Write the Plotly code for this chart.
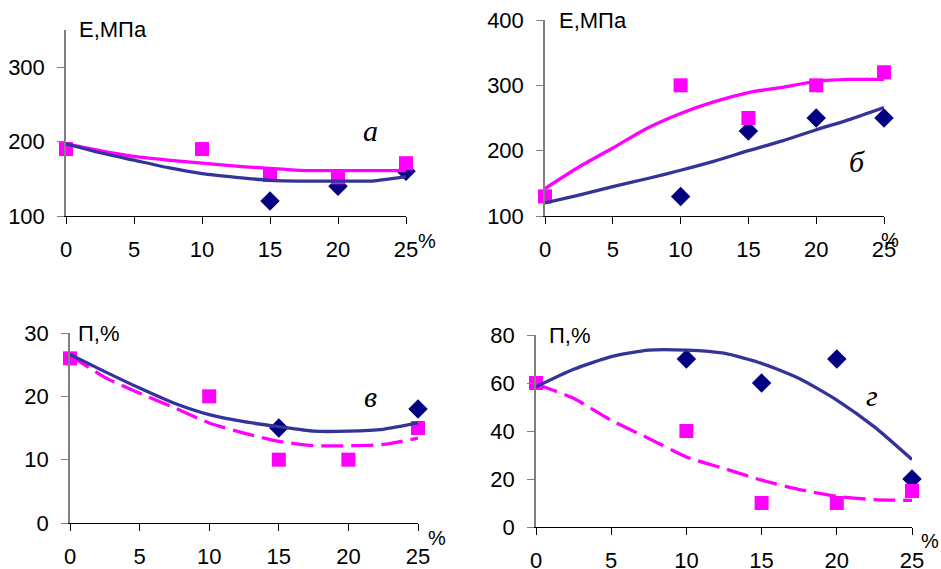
import plotly.graph_objects as go

W, H = 941, 569

# ---------------- data ----------------
x_pts = [0, 10, 15, 20, 25]
x_fit = [0, 2.5, 5, 7.5, 10, 12.5, 15, 17.5, 20, 22.5, 25]

# panel а (E, MPa)  (None = point hidden under a square in the picture)
a_sq = [190, 190, 155, 152, 171]
a_dm = [None, None, 120, 140, 160]
a_fit_mag = [197, 188, 180, 175, 171, 167, 164, 161, 161, 161, 161]
a_fit_nav = [197, 185, 175, 165, 157, 152, 148, 147, 147, 147, 153]

# panel б (E, MPa)
b_sq = [130, 300, 250, 300, 320]
b_dm = [None, 130, 230, 250, 250]
b_fit_mag = [142, 175, 204, 234, 257, 275, 289, 297, 306, 309, 309]
b_fit_nav = [120, 132, 145, 157, 170, 184, 200, 215, 232, 248, 266]

# panel в (П, %)
v_sq = [26, 20, 10, 10, 15]
v_dm = [None, None, 15, None, 18]
v_fit_nav = [26.6, 23.9, 21.3, 18.9, 17.1, 16.0, 15.2, 14.5, 14.5, 14.8, 15.8]
v_fit_mag = [26.5, 23.0, 20.5, 18.2, 15.8, 14.2, 12.9, 12.2, 12.2, 12.4, 13.4]

# panel г (П, %)
g_sq = [60, 40, 10, 10, 15]
g_dm = [None, 70, 60, 70, 20]
g_fit_nav = [58.4, 65.7, 71.0, 73.7, 73.7, 72.4, 68.2, 61.9, 52.9, 41.7, 28.1]
g_fit_mag = [59.6, 53.6, 44.5, 36.9, 29.2, 24.4, 19.5, 15.6, 12.8, 11.4, 11.1]

x_ticks = [0, 5, 10, 15, 20, 25]
panel_letters = ["а", "б", "в", "г"]
y_titles = ["E,МПа", "E,МПа", "П,%", "П,%"]

MAG = "#FF00FF"
NAV_LINE = "#333399"
NAV_PT = "#000080"

def px(x):
    return x / W

def py(y):
    return 1 - y / H

panels = [
    (a_sq, a_dm, a_fit_mag, a_fit_nav, "solid", [100, 350], [100, 200, 300], (66, 406), (216, 30)),
    (b_sq, b_dm, b_fit_mag, b_fit_nav, "solid", [100, 400], [100, 200, 300, 400], (545, 884), (216, 20)),
    (v_sq, v_dm, v_fit_mag, v_fit_nav, "dash", [0, 30], [0, 10, 20, 30], (70, 418), (523, 333)),
    (g_sq, g_dm, g_fit_mag, g_fit_nav, "dash", [0, 80], [0, 20, 40, 60, 80], (536, 912), (527, 335)),
]

fig = go.Figure()
layout = dict(
    width=W, height=H, margin=dict(l=0, r=0, t=0, b=0, autoexpand=False),
    paper_bgcolor="white", plot_bgcolor="white", showlegend=False,
    font=dict(family="Liberation Sans, Arial", size=22, color="black"),
)

annotations = []
for i, (sq, dm, fm, fn, dash, yr, yt, xd, yd) in enumerate(panels):
    n = i + 1
    xa = "x" if n == 1 else f"x{n}"
    ya = "y" if n == 1 else f"y{n}"
    fig.add_trace(go.Scatter(x=x_pts, y=dm, mode="markers", xaxis=xa, yaxis=ya,
                             marker=dict(symbol="diamond", size=15, color=NAV_PT),
                             cliponaxis=False))
    fig.add_trace(go.Scatter(x=x_pts, y=sq, mode="markers", xaxis=xa, yaxis=ya,
                             marker=dict(symbol="square", size=14, color=MAG),
                             cliponaxis=False))
    fig.add_trace(go.Scatter(x=x_fit, y=fm, mode="lines", xaxis=xa, yaxis=ya,
                             line=dict(color=MAG, width=3.3, dash="22px,8px" if dash == "dash" else "solid",
                                       shape="spline", smoothing=0.6),
                             cliponaxis=False))
    fig.add_trace(go.Scatter(x=x_fit, y=fn, mode="lines", xaxis=xa, yaxis=ya,
                             line=dict(color=NAV_LINE, width=3.3, shape="spline", smoothing=0.6),
                             cliponaxis=False))
    xkey = "xaxis" if n == 1 else f"xaxis{n}"
    ykey = "yaxis" if n == 1 else f"yaxis{n}"
    layout[xkey] = dict(
        domain=[px(xd[0]), px(xd[1])], range=[0, 25], anchor=ya, automargin=False,
        tickvals=x_ticks, showline=True, linecolor="black", linewidth=1.2,
        ticks="outside", ticklen=7, tickcolor="black", tickwidth=1.2,
        showgrid=False, zeroline=False, fixedrange=True,
        tickfont=dict(size=22), ticklabelstandoff=6,
    )
    layout[ykey] = dict(
        domain=[py(yd[0]), py(yd[1])], range=yr, anchor=xa, automargin=False,
        tickvals=yt, showline=True, linecolor="#808080", linewidth=1.5,
        ticks="outside", ticklen=7, tickcolor="#808080", tickwidth=1.2,
        showgrid=False, zeroline=False, fixedrange=True,
        tickfont=dict(size=22), ticklabelstandoff=8,
    )

title_pos = [(77, 30), (557, 21), (76, 333), (547, 335)]
for (tx, ty), t in zip(title_pos, y_titles):
    annotations.append(dict(x=px(tx), y=py(ty), xref="paper", yref="paper", text=t,
                            showarrow=False, xanchor="left", yanchor="middle",
                            font=dict(size=22)))
pct_pos = [(427, 241), (890, 240), (437, 538), (930, 541)]
for tx, ty in pct_pos:
    annotations.append(dict(x=px(tx), y=py(ty), xref="paper", yref="paper", text="%",
                            showarrow=False, xanchor="center", yanchor="middle",
                            font=dict(size=20)))
letter_pos = [(370, 130), (857, 161), (370, 396), (872, 395)]
for (tx, ty), t in zip(letter_pos, panel_letters):
    annotations.append(dict(x=px(tx), y=py(ty), xref="paper", yref="paper", text=f"<i>{t}</i>",
                            showarrow=False, xanchor="center", yanchor="middle",
                            font=dict(size=30, family="Liberation Serif, Times New Roman")))
layout["annotations"] = annotations

fig.update_layout(**layout)
fig.write_html("out.html", config={"displayModeBar": False},
               post_script="document.body.style.margin='0';document.body.style.padding='0';")
